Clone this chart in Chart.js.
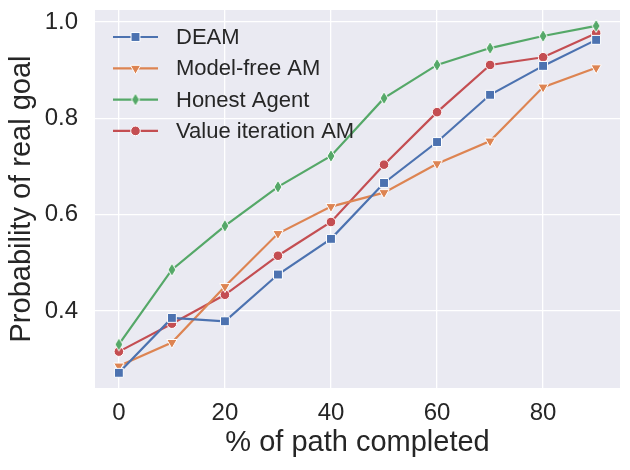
<!DOCTYPE html>
<html>
<head>
<meta charset="utf-8">
<script src="https://cdn.jsdelivr.net/npm/chart.js@4/dist/chart.umd.min.js"></script>
<style>
  html, body { margin: 0; padding: 0; background: #fff; }
  #wrap { width: 630px; height: 470px; }
</style>
</head>
<body>
<div id="wrap"><canvas id="chart" width="630" height="470"></canvas></div>
<script>
// x axis: % of path completed
var xValues = [0, 10, 20, 30, 40, 50, 60, 70, 80, 90];
var xTicks = [0, 20, 40, 60, 80];
var yTicks = [0.4, 0.6, 0.8, 1.0];

// series
var deam = [0.272, 0.386, 0.379, 0.476, 0.550, 0.666, 0.751, 0.849, 0.909, 0.963];
var modelFree = [0.286, 0.335, 0.451, 0.561, 0.617, 0.646, 0.706, 0.753, 0.865, 0.905];
var honest = [0.331, 0.486, 0.577, 0.658, 0.722, 0.842, 0.911, 0.946, 0.971, 0.992];
var valueIter = [0.316, 0.374, 0.434, 0.515, 0.585, 0.704, 0.813, 0.911, 0.927, 0.977];

var seriesNames = ['DEAM', 'Model-free AM', 'Honest Agent', 'Value iteration AM'];
var seriesColors = ['#4C72B0', '#DD8452', '#55A868', '#C44E52'];

var textColor = '#262626';
var fontFamily = '"Liberation Sans", Arial, sans-serif';

// thin diamond marker (matplotlib 'd') as a small canvas
function thinDiamond(color) {
  var c = document.createElement('canvas');
  c.width = 12; c.height = 16;
  var g = c.getContext('2d');
  g.beginPath();
  g.moveTo(6, 1.5);
  g.lineTo(10, 8);
  g.lineTo(6, 14.5);
  g.lineTo(2, 8);
  g.closePath();
  g.fillStyle = color;
  g.fill();
  g.strokeStyle = '#ffffff';
  g.lineWidth = 1;
  g.stroke();
  return c;
}

var markers = [
  { style: 'rect', radius: 6.3, rotation: 0 },
  { style: 'triangle', radius: 6, rotation: 180 },
  { style: thinDiamond(seriesColors[2]), radius: 6, rotation: 0 },
  { style: 'circle', radius: 4.8, rotation: 0 }
];

function toPoints(arr) {
  return arr.map(function(v, i) { return { x: xValues[i], y: v }; });
}

var allSeries = [deam, modelFree, honest, valueIter];
var datasets = allSeries.map(function(arr, i) {
  return {
    label: seriesNames[i],
    data: toPoints(arr),
    borderColor: seriesColors[i],
    backgroundColor: seriesColors[i],
    borderWidth: 2.2,
    pointStyle: markers[i].style,
    pointRadius: markers[i].radius,
    pointRotation: markers[i].rotation,
    pointBorderColor: '#ffffff',
    pointBorderWidth: 1,
    pointHoverRadius: markers[i].radius,
    tension: 0
  };
});

// plot background
var bgPlugin = {
  id: 'plotBg',
  beforeDraw: function(chart) {
    var a = chart.chartArea, ctx = chart.ctx;
    ctx.save();
    ctx.fillStyle = '#ffffff';
    ctx.fillRect(0, 0, chart.width, chart.height);
    ctx.fillStyle = '#EAEAF2';
    ctx.fillRect(a.left, a.top, a.right - a.left, a.bottom - a.top);
    ctx.restore();
  }
};

// legend drawn inside the plot, line + marker like matplotlib
var legendPlugin = {
  id: 'innerLegend',
  afterDatasetsDraw: function(chart) {
    var a = chart.chartArea, ctx = chart.ctx;
    var x0 = a.left + 18, x1 = a.left + 63, tx = a.left + 81;
    var y = a.top + 27, step = 31.3;
    ctx.save();
    chart.data.datasets.forEach(function(ds, i) {
      var yy = y + i * step;
      ctx.strokeStyle = ds.borderColor;
      ctx.lineWidth = ds.borderWidth;
      ctx.beginPath();
      ctx.moveTo(x0, yy);
      ctx.lineTo(x1, yy);
      ctx.stroke();
      ctx.fillStyle = ds.backgroundColor;
      ctx.strokeStyle = '#ffffff';
      ctx.lineWidth = 1;
      Chart.helpers.drawPoint(ctx, {
        pointStyle: ds.pointStyle,
        radius: ds.pointRadius,
        rotation: ds.pointRotation,
        borderWidth: 1
      }, (x0 + x1) / 2, yy);
      ctx.fillStyle = textColor;
      ctx.font = '22px ' + fontFamily;
      ctx.textBaseline = 'middle';
      ctx.textAlign = 'left';
      ctx.fillText(ds.label, tx, yy + 1);
    });
    ctx.restore();
  }
};

new Chart(document.getElementById('chart'), {
  type: 'line',
  data: { datasets: datasets },
  plugins: [bgPlugin, legendPlugin],
  options: {
    responsive: false,
    animation: false,
    events: [],
    layout: { padding: { left: 0, right: 10, top: 10, bottom: 0 } },
    plugins: {
      legend: { display: false },
      tooltip: { enabled: false }
    },
    scales: {
      x: {
        type: 'linear',
        min: -4.5,
        max: 94.5,
        border: { display: false },
        grid: { color: '#ffffff', lineWidth: 1.3, drawTicks: false },
        afterBuildTicks: function(scale) {
          scale.ticks = xTicks.map(function(v) { return { value: v }; });
        },
        afterFit: function(scale) {
          scale.height = 82;
          scale.paddingLeft = 0;
          scale.paddingRight = 0;
        },
        ticks: {
          color: textColor,
          padding: 11,
          maxRotation: 0,
          font: { family: fontFamily, size: 24 },
          callback: function(v) { return String(v); }
        },
        title: {
          display: true,
          text: '% of path completed',
          color: textColor,
          font: { family: fontFamily, size: 29 },
          padding: { top: 0, bottom: 10 }
        }
      },
      y: {
        type: 'linear',
        min: 0.2405,
        max: 1.025,
        border: { display: false },
        grid: { color: '#ffffff', lineWidth: 1.3, drawTicks: false },
        afterBuildTicks: function(scale) {
          scale.ticks = yTicks.map(function(v) { return { value: v }; });
        },
        afterFit: function(scale) {
          scale.width = 95;
          scale.paddingTop = 0;
          scale.paddingBottom = 0;
        },
        ticks: {
          color: textColor,
          padding: 17,
          font: { family: fontFamily, size: 24 },
          callback: function(v) { return v.toFixed(1); }
        },
        title: {
          display: true,
          text: 'Probability of real goal',
          color: textColor,
          font: { family: fontFamily, size: 29 },
          padding: { top: 5, bottom: 0 }
        }
      }
    }
  }
});
</script>
</body>
</html>
